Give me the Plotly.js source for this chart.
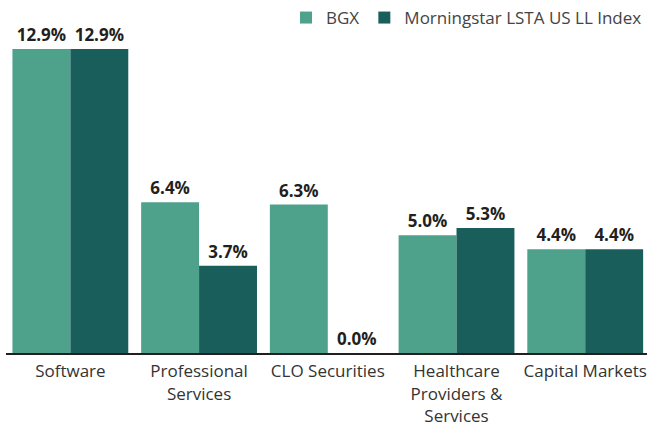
<!DOCTYPE html>
<html><head><meta charset="utf-8">
<script src="https://cdn.plot.ly/plotly-3.0.1.min.js"></script>
<style>html,body{margin:0;padding:0;background:#fff}#c{width:647px;height:429px}</style>
</head><body><div id="c"></div>
<script>
const categories = ["Software", "Professional<br>Services", "CLO Securities", "Healthcare<br>Providers &<br>Services", "Capital Markets"];
const bgx = [12.9, 6.4, 6.3, 5.0, 4.4];
const index = [12.9, 3.7, 0.0, 5.3, 4.4];
const seriesNames = ["BGX", "Morningstar LSTA US LL Index"];
const fmt = v => v.toFixed(1) + "%";
const labelFont = {family: "Open Sans, sans-serif", size: 17, color: "#231f20", weight: 700};
const traces = [
  {type: "bar", name: seriesNames[0], x: categories, y: bgx, marker: {color: "#4ea28c"},
   text: bgx.map(fmt), textposition: "outside", textfont: labelFont, cliponaxis: false},
  {type: "bar", name: seriesNames[1], x: categories, y: index, marker: {color: "#1a5e5b"},
   text: index.map(fmt), textposition: "outside", textfont: labelFont, cliponaxis: false}
];
const layout = {
  width: 647, height: 429,
  margin: {l: 6, r: 0, t: 23, b: 76, autoexpand: false},
  paper_bgcolor: "#fff", plot_bgcolor: "#fff",
  barmode: "group", bargap: 0.1, bargroupgap: 0,
  font: {family: "Open Sans, sans-serif", color: "#333"},
  showlegend: true,
  legend: {orientation: "h", x: 1, xanchor: "right", y: 1, yanchor: "top", yref: "container",
           font: {size: 17, color: "#444"}, itemwidth: 30, tracegroupgap: 0},
  xaxis: {showline: true, linecolor: "#231f20", linewidth: 2, ticks: "", tickfont: {size: 17, color: "#333"},
          showgrid: false, zeroline: false, automargin: false, range: [-0.5, 4.48], ticklabelstandoff: 2},
  yaxis: {range: [0, 14], visible: false, showgrid: false, zeroline: false, automargin: false},
  uniformtext: {mode: false}
};
Plotly.newPlot("c", traces, layout, {displayModeBar: false, staticPlot: true});
</script></body></html>
